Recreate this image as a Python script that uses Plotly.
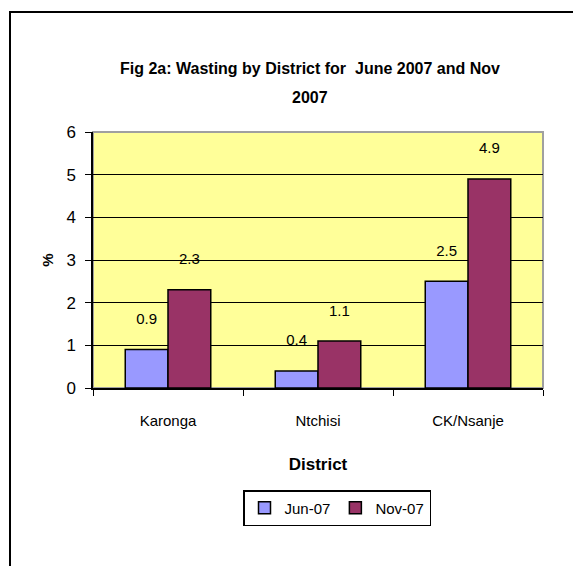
import plotly.graph_objects as go

districts = ["Karonga", "Ntchisi", "CK/Nsanje"]
jun07 = [0.9, 0.4, 2.5]
nov07 = [2.3, 1.1, 4.9]
series_names = ["Jun-07", "Nov-07"]
title_lines = ["Fig 2a: Wasting by District for  June 2007 and Nov", "2007"]

OFF = 8  # page body margin
W, H = 581, 566
L, R, T, B = 93 - OFF, 38 + OFF, 132 - OFF, 178 + OFF
pw, ph = W - L - R, H - T - B

def px_x(p):
    return (p - OFF - L) / pw

def px_y(p):
    return (H - B - (p - OFF)) / ph

fig = go.Figure()
for name, vals, col in [(series_names[0], jun07, "#9999FF"), (series_names[1], nov07, "#993366")]:
    fig.add_trace(go.Bar(
        x=districts, y=vals, name=name,
        marker=dict(color=col, line=dict(color="black", width=1.5)),
        text=[f"{v:.1f}<br> " for v in vals],
        textposition="outside", cliponaxis=False,
        textfont=dict(family="Liberation Sans, Arial", size=15, color="black"),
    ))

tfont = dict(family="Liberation Sans Narrow, Arial Narrow, Liberation Sans, Arial", size=16, color="black")
for txt, yy in zip(title_lines, [68, 97]):
    fig.add_annotation(text=f"<b>{txt}</b>", xref="paper", yref="paper",
                       x=px_x(310), y=px_y(yy), xanchor="center", yanchor="middle",
                       showarrow=False, font=tfont)

fig.update_layout(
    width=W, height=H,
    margin=dict(l=L, r=R, t=T, b=B),
    paper_bgcolor="white", plot_bgcolor="#FFFF99",
    barmode="group", bargap=0.43, bargroupgap=0,
    showlegend=True,
    legend=dict(orientation="h", x=px_x(337), xanchor="center", y=px_y(490), yanchor="top",
                bordercolor="black", borderwidth=1.5, bgcolor="white",
                font=dict(family="Liberation Sans, Arial", size=15, color="black"),
                itemwidth=30, traceorder="normal"),
    font=dict(family="Liberation Sans, Arial", color="black"),
)
fig.update_xaxes(
    type="category", tickson="boundaries", ticks="outside", ticklen=6, tickcolor="black",
    showline=True, linecolor="black", linewidth=1.5, showgrid=False,
    tickfont=dict(size=15), ticklabelstandoff=18,
    title=dict(text="<b>District</b>", font=dict(family="Liberation Sans Narrow, Arial Narrow, Liberation Sans, Arial", size=17), standoff=30),
)
fig.update_yaxes(
    range=[0, 6], dtick=1, ticks="outside", ticklen=6, tickcolor="black",
    showline=True, linecolor="black", linewidth=1.5,
    showgrid=True, gridcolor="black", gridwidth=1.2, zeroline=False,
    tickfont=dict(size=17), ticklabelstandoff=6,
    title=dict(text="<b>%</b>", font=dict(size=15), standoff=9),
)
# plot area border (gray top/right)
fig.add_shape(type="rect", xref="paper", yref="paper", x0=0, x1=1, y0=0, y1=1,
              line=dict(color="#A0A0A0", width=2), layer="below")
# outer chart frame
fig.add_shape(type="rect", xref="paper", yref="paper",
              x0=px_x(10), x1=px_x(620), y0=px_y(620), y1=px_y(12),
              line=dict(color="black", width=2))
fig.write_html("out.html")
